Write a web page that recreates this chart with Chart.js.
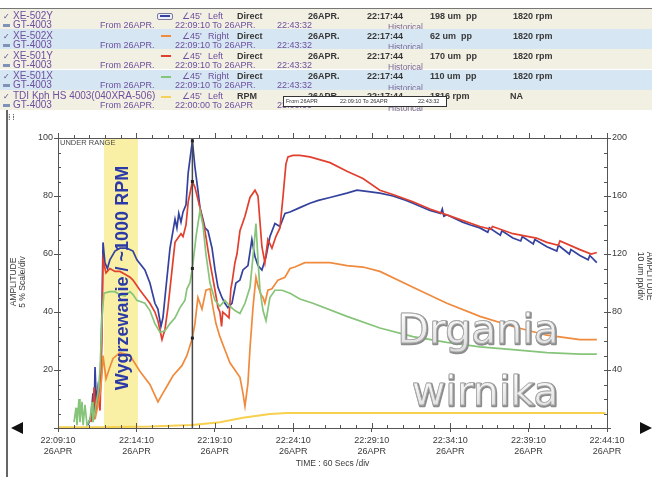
<!DOCTYPE html>
<html>
<head>
<meta charset="utf-8">
<script src="https://cdn.jsdelivr.net/npm/chart.js@4.4.1/dist/chart.umd.min.js"></script>
<style>
  html, body { margin: 0; padding: 0; background: #fff; }
  #wrap { position: relative; width: 652px; height: 477px; overflow: hidden;
          font-family: 'Liberation Sans', Arial, sans-serif; }
  #chart { position: absolute; left: 0; top: 0; }
  #header { position: absolute; left: 0; top: 0; width: 652px; height: 120px; }
  .band { position: absolute; left: 0; width: 652px; height: 20px; }
  .t { position: absolute; white-space: nowrap; font-size: 9px; line-height: 10px; }
  .p { color: #6d4f9e; }
  .n { color: #6d4f9e; font-size: 10px; }
  .d { color: #383838; font-weight: bold; }
  .h { color: #7a6a98; font-size: 8.5px; }
  .sw { position: absolute; height: 2px; width: 10px; }
</style>
</head>
<body>
<div id="wrap">
  <canvas id="chart" width="652" height="477"></canvas>
  <div id="header"></div>
</div>
<script>
// ---- time axis (minutes after 22:09:10, 26APR) ----
const timeLabels = ['22:09:10', '22:14:10', '22:19:10', '22:24:10', '22:29:10', '22:34:10', '22:39:10', '22:44:10'];
const dateLabels = ['26APR', '26APR', '26APR', '26APR', '26APR', '26APR', '26APR', '26APR'];
const leftTickLabels = [20, 40, 60, 80, 100];
const rightTickLabels = [40, 80, 120, 160, 200];

// warm-up window (minutes) and cursor position
const warmupWindow = [2.93, 5.1];
const cursorMinute = 8.567;          // 22:17:44
const cursorTimeLabel = '22:17:44';

// ---- channel table ----
const channelNames = ['XE-502Y', 'XE-502X', 'XE-501Y', 'XE-501X', 'TDI Kph HS 4003(040XRA-506)'];
const channelSides = ['Left', 'Right', 'Left', 'Right', 'Left'];
const channelModes = ['Direct', 'Direct', 'Direct', 'Direct', 'RPM'];
const cursorReadings = [198, 62, 170, 110];   // um pp at the cursor
const cursorSpeed = [1820, 1820, 1820, 1820];  // rpm at the cursor
const tdiSpeed = 1816;

// ---- XE-502Y (um pp) ----
const xe502yTime = [1.91, 2.10, 2.23, 2.30, 2.36, 2.45, 2.55, 2.68, 2.80, 2.87, 2.99, 3.15, 3.31, 3.63, 3.95, 4.38, 4.78, 5.03, 5.54, 5.86,
  6.18, 6.37, 6.56, 6.69, 6.82, 7.14, 7.27, 7.46, 7.58, 7.70, 7.84, 7.97, 8.16, 8.30, 8.567, 8.73, 8.92, 9.05, 9.24, 9.37,
  9.56, 9.82, 10.01, 10.20, 10.45, 10.64, 10.83, 11.09, 11.34, 11.60, 11.79, 12.11, 12.36, 12.56, 12.75, 13.00, 13.26, 13.51, 13.83, 14.15,
  14.47, 14.79, 15.42, 16.06, 16.6, 17.34, 18.42, 19.06, 19.8, 20.52, 21.35, 22.2, 22.63, 23.71, 24.4, 24.5, 24.6, 24.79, 25.8, 26.3,
  26.9, 27.4, 27.5, 28.2, 28.3, 29.0, 29.5, 29.6, 30.3, 30.4, 31.17, 31.8, 31.9, 32.6, 32.7, 33.27, 33.8, 33.9, 34.35];
const xe502yUm = [2, 8, 24, 6, 42, 16, 28, 20, 80, 128, 114, 110, 116, 122, 124, 124, 122, 116, 109, 100,
  86, 82, 70, 76, 90, 124, 132, 144, 138, 148, 142, 149, 154, 176, 198, 180, 164, 152, 144, 138,
  136, 124, 109, 97, 90, 86, 83, 86, 100, 102, 109, 112, 130, 118, 112, 109, 118, 132, 141, 139,
  148, 149, 152, 155, 157, 159, 162, 164, 163, 162, 160, 157, 155, 150, 148, 151, 146, 147, 142, 140,
  138, 135, 138, 133, 136, 131, 129, 132, 127, 130, 125, 122, 126, 120, 123, 119, 116, 119, 114];

// ---- XE-502X (um pp) ----
const xe502xTime = [2.36, 2.55, 2.68, 2.80, 2.87, 3.06, 3.31, 3.51, 3.95, 4.59, 5.23, 5.86, 6.37, 6.69, 7.01, 7.33, 7.90, 8.22, 8.567, 8.73,
  8.92, 9.18, 9.43, 9.69, 9.88, 10.07, 10.32, 10.64, 10.96, 11.28, 11.60, 11.79, 11.92, 12.11, 12.24, 12.43, 12.62, 12.75, 12.94, 13.07,
  13.19, 13.38, 13.64, 14.02, 14.47, 14.79, 15.10, 15.74, 16.25, 17.34, 18.42, 19.44, 20.52, 22.63, 24.79, 26.90, 29.00, 31.17, 33.27, 34.35];
const xe502xUm = [6, 16, 24, 36, 50, 34, 42, 48, 52, 50, 39, 30, 18, 24, 30, 36, 43, 50, 62, 72,
  90, 82, 95, 96, 83, 72, 63, 54, 45, 40, 35, 24, 15, 31, 55, 83, 104, 98, 92, 90,
  86, 95, 96, 102, 104, 110, 111, 114, 114, 114, 112, 111, 108, 97, 86, 77, 70, 64, 61, 61];

// ---- XE-501Y (um pp) ----
const xe501yTime = [2.10, 2.23, 2.30, 2.40, 2.55, 2.68, 2.80, 2.87, 3.06, 3.31, 3.63, 3.95, 4.27, 4.59, 4.78, 5.23, 5.86, 6.18, 6.37, 6.63,
  6.82, 7.01, 7.27, 7.46, 7.58, 7.84, 7.97, 8.16, 8.30, 8.567, 8.73, 9.05, 9.37, 9.69, 10.01, 10.20, 10.32, 10.43, 10.50, 10.71,
  10.90, 11.02, 11.09, 11.28, 11.41, 11.60, 11.92, 12.24, 12.56, 12.75, 12.87, 13.00, 13.19, 13.38, 13.64, 13.89, 14.15, 14.34, 14.53, 14.66,
  14.98, 15.42, 16.06, 17.34, 18.42, 19.44, 20.52, 21.35, 22.63, 23.71, 24.79, 26.90, 27.6, 27.7, 29.00, 30.5, 31.17, 31.9, 32.0, 33.27, 34.0, 34.35];
const xe501yUm = [4, 12, 28, 10, 24, 12, 60, 116, 107, 110, 108, 108, 106, 104, 102, 95, 86, 80, 74, 61,
  68, 83, 109, 128, 130, 134, 132, 140, 156, 170, 166, 152, 136, 114, 95, 83, 80, 70, 80, 78,
  76, 96, 100, 114, 120, 136, 146, 159, 164, 160, 143, 125, 114, 130, 124, 132, 138, 159, 182, 187,
  188, 188, 187, 183, 177, 172, 164, 161, 156, 151, 147, 139, 137, 139, 134, 131, 128, 126, 129, 123, 120, 121];

// ---- XE-501X (um pp) ----
const xe501xTime = [1.02, 1.15, 1.21, 1.34, 1.40, 1.53, 1.60, 1.72, 1.85, 2.04, 2.17, 2.23, 2.36, 2.55, 2.68, 2.80, 2.93, 3.31, 3.63, 3.95,
  4.27, 4.59, 4.78, 5.03, 5.54, 5.86, 6.18, 6.50, 6.82, 7.14, 7.46, 7.78, 8.09, 8.22, 8.41, 8.567, 8.80, 9.05, 9.24, 9.43,
  9.69, 10.01, 10.32, 10.64, 10.96, 11.28, 11.60, 11.92, 12.24, 12.43, 12.62, 12.75, 12.87, 13.07, 13.26, 13.51, 13.83, 14.28, 14.79, 15.42,
  16.25, 18.42, 20.52, 22.63, 24.79, 26.90, 29.00, 31.17, 33.27, 34.35];
const xe501xUm = [4, 14, 2, 20, 4, 18, 2, 16, 2, 6, 18, 4, 12, 24, 40, 76, 93, 94, 94, 92,
  91, 94, 92, 88, 86, 81, 72, 66, 67, 72, 76, 83, 88, 96, 100, 110, 132, 150, 140, 120,
  100, 88, 84, 88, 84, 81, 79, 86, 97, 118, 141, 116, 96, 81, 74, 90, 95, 95, 93, 89,
  86, 77, 69, 63, 59, 56, 54, 52, 51, 51];

// ---- TDI speed trace (left scale, %) ----
const tdiTime = [0, 2.68, 5.86, 8.567, 10.32, 11.79, 13.51, 14.60, 34.9];
const tdiPct = [0.3, 0.3, 0.5, 1, 2, 3.5, 4.8, 5.2, 5.2];

const pts = (t, v) => t.map((x, i) => ({ x, y: v[i] }));

// ---- header table ----
(function buildHeader() {
  const hdr = document.getElementById('header');
  const swatchColors = [null, '#f08a3c', '#e2402e', '#86c47a', '#f4d25a'];
  const add = (html, cls, left, top) => {
    const s = document.createElement('div');
    s.className = 't ' + cls;
    s.style.left = left + 'px';
    s.style.top = top + 'px';
    s.innerHTML = html;
    hdr.appendChild(s);
    return s;
  };
  for (let i = 0; i < channelNames.length; i++) {
    const top = 9 + 20.2 * i;
    const b = document.createElement('div');
    b.className = 'band';
    b.style.top = top + 'px';
    b.style.background = i % 2 === 0 ? '#f2efe3' : '#d6e7f3';
    hdr.appendChild(b);
    const yA = top + 1.5, yB = top + 10.5;
    add('<span style="font-family:DejaVu Sans;font-size:8px;color:#5a4a8a">&#10003;</span>', '', 3, yA);
    add('<span style="display:inline-block;width:7px;height:3px;background:#7f93b8;vertical-align:middle"></span>', '', 3, yB);
    add(channelNames[i], 'n', 13, yA);
    add('GT-4003', 'n', 13, yB);
    add('From 26APR.', 'p', 100, yB);
    if (i < 4) {
      add('22:09:10 To 26APR.', 'p', 175, yB);
      add('22:43:32', 'p', 277, yB);
    } else {
      add('22:00:00 To 26APR', 'p', 175, yB);
      add('23:00:00', 'p', 277, yB);
    }
    add('Historical', 'h', 388, yB + 2.5);
    // legend swatch
    if (i === 0) {
      const box = document.createElement('div');
      box.style.cssText = 'position:absolute;left:157px;top:' + (top + 3.5) + 'px;width:14px;height:5px;border:1px solid #7a7a9a;border-radius:2px;background:#eef';
      box.innerHTML = '<div style="margin:1.5px 2px;height:2px;background:#34429e"></div>';
      hdr.appendChild(box);
    } else {
      const sw = document.createElement('div');
      sw.className = 'sw';
      sw.style.left = '161px';
      sw.style.top = (top + 6) + 'px';
      sw.style.background = swatchColors[i];
      hdr.appendChild(sw);
    }
    add('<span style="font-family:DejaVu Sans">&#8736;</span>45\'', 'p', 182, yA);
    add(channelSides[i], 'p', 208, yA);
    add(channelModes[i], 'd', 237, yA);
    add('26APR.', 'd', 308, yA);
    add(cursorTimeLabel, 'd', 367, yA);
    if (i < 4) {
      add(cursorReadings[i] + ' um&nbsp;&nbsp;pp', 'd', 430, yA);
      add(cursorSpeed[i] + ' rpm', 'd', 513, yA);
    } else {
      add(tdiSpeed + ' rpm', 'd', 430, yA);
      add('NA', 'd', 510, yA);
    }
  }
  // floating time-range box on the speed row
  const tip = document.createElement('div');
  tip.style.cssText = 'position:absolute;left:283px;top:96px;width:162px;height:9px;border:1px solid #333;background:#fff;font-size:5.5px;line-height:9px;color:#333;white-space:nowrap';
  tip.innerHTML = '<span style="position:absolute;left:2px">From 26APR</span><span style="position:absolute;left:56px">22:09:10 To 26APR</span><span style="position:absolute;left:134px">22:43:32</span>';
  hdr.appendChild(tip);
  add('<span style="font-family:DejaVu Sans;font-size:8px;color:#555">&#8286;&#8201;&#8286;</span>', '', 8, 112);
})();

// ---- overlay drawing ----
const overlay = {
  id: 'overlay',
  beforeDatasetsDraw(chart) {
    const { ctx, chartArea: a, scales: { x } } = chart;
    const x0 = x.getPixelForValue(warmupWindow[0]);
    const x1 = x.getPixelForValue(warmupWindow[1]);
    ctx.save();
    ctx.fillStyle = '#f9f0a6';
    ctx.fillRect(x0, a.top, x1 - x0, a.bottom - a.top);
    ctx.restore();
  },
  afterDatasetsDraw(chart) {
    const { ctx, chartArea: a, scales: { x, y, y1 } } = chart;
    ctx.save();

    // cursor
    const cx = x.getPixelForValue(cursorMinute);
    ctx.strokeStyle = '#4a4a4a';
    ctx.lineWidth = 1.5;
    ctx.beginPath(); ctx.moveTo(cx, a.top); ctx.lineTo(cx, a.bottom); ctx.stroke();
    ctx.fillStyle = '#222';
    cursorReadings.forEach(v => ctx.fillRect(cx - 1.5, y1.getPixelForValue(v) - 1.5, 3, 3));

    // frame top + inward minor ticks
    ctx.strokeStyle = '#555';
    ctx.lineWidth = 1;
    ctx.beginPath();
    ctx.moveTo(a.left, a.top + 0.5); ctx.lineTo(a.right, a.top + 0.5);
    for (let m = 0; m <= 35; m++) {
      const px = Math.round(x.getPixelForValue(m)) + 0.5;
      const len = m % 5 === 0 ? 5 : 3;
      ctx.moveTo(px, a.bottom); ctx.lineTo(px, a.bottom - len);
      ctx.moveTo(px, a.top); ctx.lineTo(px, a.top - len);
    }
    for (let v = 0; v <= 100; v += 5) {
      const py = Math.round(y.getPixelForValue(v)) + 0.5;
      ctx.moveTo(a.left, py); ctx.lineTo(a.left + 3, py);
    }
    for (let v = 0; v <= 200; v += 10) {
      const py = Math.round(y1.getPixelForValue(v)) + 0.5;
      ctx.moveTo(a.right, py); ctx.lineTo(a.right - 3, py);
    }
    ctx.stroke();

    // range flag
    ctx.fillStyle = '#4a4a4a';
    ctx.font = '7.5px "Liberation Sans", Arial';
    ctx.textBaseline = 'middle';
    ctx.fillText('UNDER RANGE', a.left + 2, a.top + 5);

    // warm-up note
    ctx.save();
    ctx.translate(x.getPixelForValue((warmupWindow[0] + warmupWindow[1]) / 2) + 2, 278);
    ctx.rotate(-Math.PI / 2);
    ctx.fillStyle = '#2b3aa6';
    ctx.font = 'bold 18px "Liberation Sans", Arial';
    ctx.textAlign = 'center';
    ctx.textBaseline = 'middle';
    ctx.fillText('Wygrzewanie / ~1000 RPM', 0, 0);
    ctx.restore();

    // embossed caption
    ctx.font = '41px "DejaVu Sans", sans-serif';
    ctx.textAlign = 'center';
    ctx.textBaseline = 'alphabetic';
    ctx.lineJoin = 'round';
    [['Drgania', 478, 343], ['wirnika', 485, 405]].forEach(([txt, tx, ty]) => {
      ctx.strokeStyle = '#8c8c8c';
      ctx.lineWidth = 2.4;
      ctx.strokeText(txt, tx + 0.8, ty + 0.8);
      const g = ctx.createLinearGradient(0, ty - 32, 0, ty + 8);
      g.addColorStop(0, '#ffffff');
      g.addColorStop(1, '#dcdcdc');
      ctx.fillStyle = g;
      ctx.fillText(txt, tx, ty);
      ctx.strokeStyle = '#a8a8a8';
      ctx.lineWidth = 0.8;
      ctx.strokeText(txt, tx, ty);
    });

    // axis titles
    ctx.fillStyle = '#3a3a3a';
    ctx.font = '8.5px "Liberation Sans", Arial';
    ctx.textAlign = 'center';
    ctx.textBaseline = 'middle';
    ctx.save();
    ctx.translate(14, 282); ctx.rotate(-Math.PI / 2);
    ctx.fillText('AMPLITUDE', 0, 0);
    ctx.fillText('5 % Scale/div', 0, 9);
    ctx.restore();
    ctx.save();
    ctx.translate(649, 276); ctx.rotate(Math.PI / 2);
    ctx.fillText('AMPLITUDE', 0, 0);
    ctx.fillText('10 um pp/div', 0, 9);
    ctx.restore();
    ctx.fillText('TIME : 60 Secs /div', (a.left + a.right) / 2, 464);

    // scroll arrows
    ctx.fillStyle = '#111';
    ctx.beginPath(); ctx.moveTo(11, 428); ctx.lineTo(23, 422); ctx.lineTo(23, 434); ctx.closePath(); ctx.fill();
    ctx.beginPath(); ctx.moveTo(652, 428); ctx.lineTo(640, 422); ctx.lineTo(640, 434); ctx.closePath(); ctx.fill();

    // panel border
    ctx.strokeStyle = '#333';
    ctx.lineWidth = 1.5;
    ctx.beginPath(); ctx.moveTo(7, 110); ctx.lineTo(7, 477); ctx.stroke();
    ctx.strokeStyle = '#777';
    ctx.lineWidth = 1;
    ctx.beginPath(); ctx.moveTo(0, 8.5); ctx.lineTo(652, 8.5); ctx.stroke();
    ctx.restore();
  }
};

const tickFont = { family: "'Liberation Sans Narrow', 'Liberation Sans', Arial", size: 9 };
const line = (label, data, color, axis, w) => ({
  label, data, borderColor: color, borderWidth: w || 1.7, pointRadius: 0,
  tension: 0, yAxisID: axis, fill: false
});

new Chart(document.getElementById('chart'), {
  type: 'line',
  data: {
    datasets: [
      line('TDI Kph HS 4003', pts(tdiTime, tdiPct), '#f6d04e', 'y', 2),
      line('XE-501X', pts(xe501xTime, xe501xUm), '#86c47a', 'y1'),
      line('XE-502X', pts(xe502xTime, xe502xUm), '#f08a3c', 'y1'),
      line('XE-501Y', pts(xe501yTime, xe501yUm), '#e2402e', 'y1'),
      line('XE-502Y', pts(xe502yTime, xe502yUm), '#34429e', 'y1')
    ]
  },
  options: {
    responsive: false,
    animation: false,
    layout: { padding: { left: 8, right: 0, top: 138, bottom: 0 } },
    plugins: { legend: { display: false }, tooltip: { enabled: false } },
    scales: {
      x: {
        type: 'linear', min: 0, max: 35,
        afterFit: s => { s.height = 49; },
        grid: { drawOnChartArea: false, tickLength: 4, color: '#555' },
        border: { color: '#555' },
        ticks: {
          stepSize: 5, autoSkip: false, maxRotation: 0, padding: 3,
          color: '#3a3a3a', font: tickFont,
          callback: v => { const i = Math.round(v / 5); return [timeLabels[i], dateLabels[i]]; }
        }
      },
      y: {
        position: 'left', min: 0, max: 100,
        afterFit: s => { s.width = 50; },
        grid: { drawOnChartArea: false, tickLength: 4, color: '#555' },
        border: { color: '#555' },
        ticks: {
          stepSize: 20, padding: 1, color: '#3a3a3a', font: tickFont,
          callback: v => leftTickLabels.includes(v) ? String(v) : ''
        }
      },
      y1: {
        position: 'right', min: 0, max: 200,
        afterFit: s => { s.width = 45; },
        grid: { drawOnChartArea: false, tickLength: 4, color: '#555' },
        border: { color: '#555' },
        ticks: {
          stepSize: 40, padding: 1, color: '#3a3a3a', font: tickFont,
          callback: v => rightTickLabels.includes(v) ? String(v) : ''
        }
      }
    }
  },
  plugins: [overlay]
});
</script>
</body>
</html>
